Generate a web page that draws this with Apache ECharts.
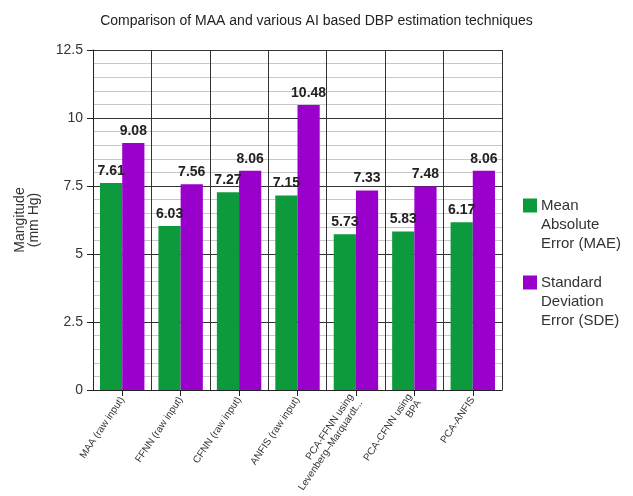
<!DOCTYPE html>
<html>
<head>
<meta charset="utf-8">
<script src="https://cdn.jsdelivr.net/npm/echarts@6/dist/echarts.min.js"></script>
<style>
html, body { margin: 0; padding: 0; background: #fff; }
#chart { width: 633px; height: 496px; }
</style>
</head>
<body>
<div id="chart"></div>
<script>
// categories and values
var categories = ['MAA (raw input)', 'FFNN (raw input)', 'CFNN (raw input)', 'ANFIS (raw input)',
	'PCA-FFNN using\nLevenberg\u2013Marquardt...', 'PCA-CFNN using\nBPA', 'PCA-ANFIS'];
var maeValues = [7.61, 6.03, 7.27, 7.15, 5.73, 5.83, 6.17];
var sdeValues = [9.08, 7.56, 8.06, 10.48, 7.33, 7.48, 8.06];
var yTicks = [0, 2.5, 5, 7.5, 10, 12.5];

var font = 'Liberation Sans, Arial, sans-serif';
var myChart = echarts.init(document.getElementById('chart'));

// one legend per item so each can be placed; blank lines on top keep the icon level with the first line
function legendFor(name, top){
	return {
		data: [name],
		orient: 'vertical',
		left: 523,
		top: top,
		padding: 0,
		itemWidth: 14,
		itemHeight: 14,
		itemGap: 3,
		icon: 'rect',
		formatter: function(n){ return '\n\n' + n; },
		textStyle: {
			fontFamily: font,
			fontSize: 15,
			color: '#333',
			lineHeight: 19,
			padding: [0, 0, 0, -1]
		}
	};
}

var option = {
	backgroundColor: '#fff',
	animation: false,
	title: {
		text: 'Comparison of MAA and various AI based DBP estimation techniques',
		left: 'center',
		top: 9,
		textStyle: { fontFamily: font, fontSize: 14, fontWeight: 'normal', color: '#222' }
	},
	legend: [
		legendFor('Mean\nAbsolute\nError (MAE)', 158),
		legendFor('Standard\nDeviation\nError (SDE)', 235)
	],
	grid: { left: 93, right: 131, top: 50, bottom: 106 },
	xAxis: {
		type: 'category',
		data: categories,
		axisLine: { lineStyle: { color: '#222', width: 1 } },
		axisTick: { show: true, alignWithLabel: true, length: 6, lineStyle: { color: '#222' } },
		splitLine: { show: true, lineStyle: { color: '#333', width: 1 } },
		axisLabel: {
			interval: 0,
			rotate: 56,
			fontFamily: font,
			fontSize: 10,
			color: '#333',
			lineHeight: 11,
			margin: 8
		}
	},
	yAxis: {
		type: 'value',
		min: yTicks[0],
		max: yTicks[yTicks.length - 1],
		interval: 2.5,
		name: 'Mangitude\n(mm Hg)',
		nameLocation: 'middle',
		nameGap: 52,
		nameTextStyle: { fontFamily: font, fontSize: 14, color: '#333', lineHeight: 14 },
		axisLine: { show: true, lineStyle: { color: '#222' } },
		axisTick: { show: true, length: 6, lineStyle: { color: '#222' } },
		axisLabel: {
			fontFamily: font, fontSize: 14, color: '#333', margin: 10,
			formatter: function(v){ return String(v); }
		},
		splitLine: { show: true, lineStyle: { color: '#333', width: 1 } },
		minorTick: { show: false, splitNumber: 5 },
		minorSplitLine: { show: true, lineStyle: { color: '#c8c8c8', width: 1 } }
	},
	series: [
		{
			name: 'Mean\nAbsolute\nError (MAE)',
			type: 'bar',
			data: maeValues,
			barWidth: '38%',
			barGap: '0%',
			itemStyle: { color: '#0c9a3c' },
			label: {
				show: true, position: 'top', distance: 5,
				fontFamily: font, fontSize: 14, fontWeight: 'bold', color: '#222'
			}
		},
		{
			name: 'Standard\nDeviation\nError (SDE)',
			type: 'bar',
			data: sdeValues,
			barWidth: '38%',
			barGap: '0%',
			itemStyle: { color: '#9a00cc' },
			label: {
				show: true, position: 'top', distance: 5,
				fontFamily: font, fontSize: 14, fontWeight: 'bold', color: '#222'
			}
		}
	]
};
myChart.setOption(option);
</script>
</body>
</html>
